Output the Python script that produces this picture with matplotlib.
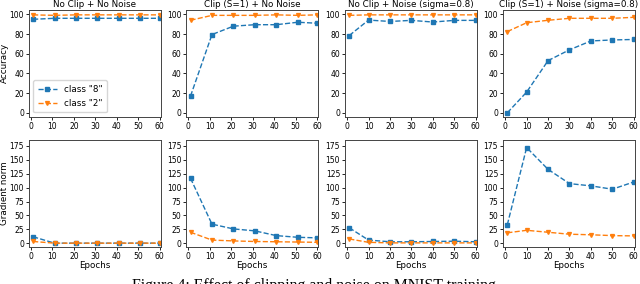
import matplotlib
matplotlib.use("Agg")
import matplotlib.pyplot as plt

# epochs (panels 1-2 logged at 1,11,21..., panels 3-4 at 1,10,20...)
epochs_a = [1, 11, 21, 31, 41, 51, 60]
epochs_b = [1, 10, 20, 30, 40, 50, 60]

titles = ["No Clip + No Noise", "Clip (S=1) + No Noise",
          "No Clip + Noise (sigma=0.8)", "Clip (S=1) + Noise (sigma=0.8)"]

# accuracy, class "8" and class "2"
acc_8 = [
    [95, 96, 96, 96, 96, 96, 96],
    [17, 79.5, 88, 89.5, 89.5, 92, 91],
    [78.5, 94.2, 92.8, 93.9, 92.2, 93.9, 93.9],
    [0, 21, 53, 64, 73, 74, 74.5],
]
acc_2 = [
    [99.5, 99, 99.5, 99.5, 99.5, 99.5, 99.5],
    [94, 99, 99, 99, 99.5, 99, 99.5],
    [99, 99.5, 99.5, 99.5, 99.5, 99.5, 99.5],
    [82.5, 91.5, 94, 96, 96, 96, 97],
]

# gradient norm, class "8" and class "2"
grad_8 = [
    [12, 0.5, 0.5, 0.5, 0.5, 0.5, 0.5],
    [116.5, 34.5, 26, 22.5, 14, 11, 10],
    [28, 6, 3, 3, 3.5, 4, 3],
    [33.5, 171.5, 132.5, 107, 103, 97, 110],
]
grad_2 = [
    [3.5, 0.5, 0.5, 0.5, 0.5, 0.5, 0.5],
    [20, 6, 4.5, 3.5, 3, 2.5, 2],
    [8, 2, 1, 1, 1, 1, 1],
    [19, 23.5, 20, 16.5, 15.5, 14, 13.5],
]

fig = plt.figure(figsize=(6.4, 2.84), dpi=100)

lefts = [0.045, 0.291, 0.539, 0.786]
w = 0.206
row_y = [0.589, 0.131]
h = 0.376

tick_fs = 5.5
lab_fs = 6.3

for i in range(4):
    ep = epochs_a if i < 2 else epochs_b
    for r in range(2):
        ax = fig.add_axes([lefts[i], row_y[r], w, h])
        if r == 0:
            y8, y2 = acc_8[i], acc_2[i]
        else:
            y8, y2 = grad_8[i], grad_2[i]
        ax.plot(ep, y8, "--s", color="tab:blue", lw=1, ms=2.8, label='class "8"')
        ax.plot(ep, y2, "--v", color="tab:orange", lw=1, ms=2.8, label='class "2"')
        ax.set_xlim(-1, 60.5)
        ax.set_xticks([0, 10, 20, 30, 40, 50, 60])
        if r == 0:
            ax.set_ylim(-4, 104.5)
            ax.set_yticks([0, 20, 40, 60, 80, 100])
            ax.set_title(titles[i], fontsize=lab_fs, pad=2)
        else:
            ax.set_ylim(-6, 185)
            ax.set_yticks([0, 25, 50, 75, 100, 125, 150, 175])
            ax.set_xlabel("Epochs", fontsize=lab_fs, labelpad=0.5)
        ax.tick_params(labelsize=tick_fs, length=2, width=0.6, pad=1.5)
        for s in ax.spines.values():
            s.set_linewidth(0.7)
            s.set_color("#444444")
        if i == 0:
            ax.set_ylabel("Accuracy" if r == 0 else "Gradient norm", fontsize=lab_fs, labelpad=0.5)
            if r == 0:
                ax.legend(loc="lower left", fontsize=lab_fs, handlelength=2.2,
                          borderpad=0.5, labelspacing=0.6, handletextpad=0.8)

# paper caption, cropped at the bottom edge like in the source image
fig.text(0.207, 1 - 278.5 / 284, "Figure 4: Effect of clipping and noise on MNIST training",
         family="Liberation Serif", fontsize=11.4, va="top", ha="left")

plt.savefig("out.png", dpi=100)
